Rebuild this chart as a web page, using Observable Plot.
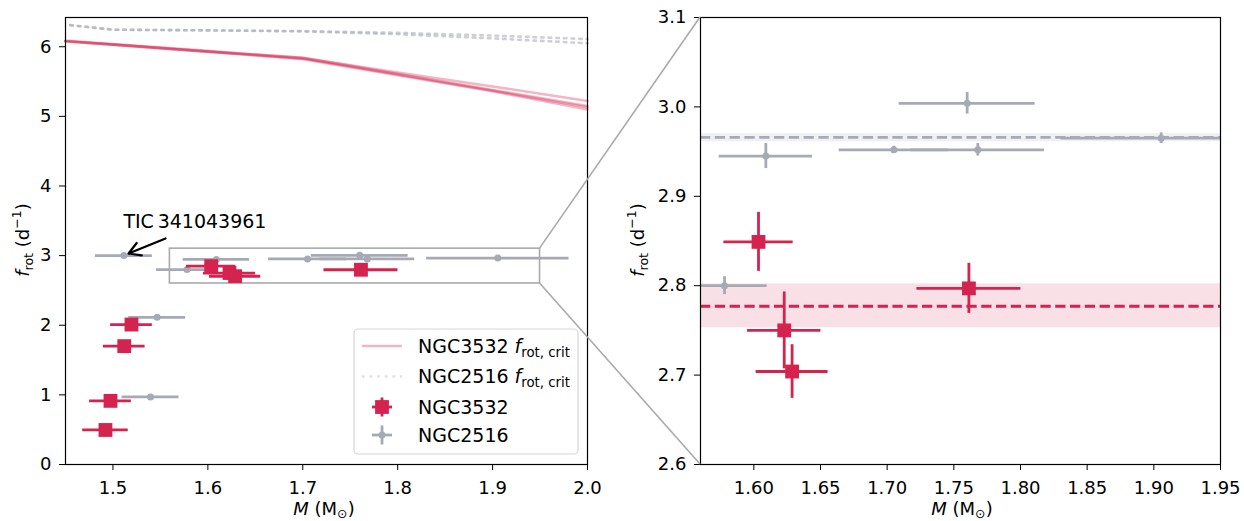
<!DOCTYPE html>
<html><head><meta charset="utf-8">
<script src="https://cdn.jsdelivr.net/npm/d3@7"></script>
<script src="https://cdn.jsdelivr.net/npm/@observablehq/plot@0.6"></script>
<style>
html,body{margin:0;padding:0;background:#fff;}
#wrap{position:relative;width:1244px;height:521px;overflow:hidden;font-family:"DejaVu Sans",sans-serif;}
#wrap > svg{position:absolute;top:0;}
</style></head><body><div id="wrap"></div>
<script>
// ---------- data ----------
const ngc3532Mass    = [1.4921, 1.4974, 1.5119, 1.5195, 1.6035, 1.6228, 1.6287, 1.7613];
const ngc3532MassErr = [0.024, 0.022, 0.022, 0.022, 0.026, 0.0275, 0.027, 0.039];
const ngc3532Frot    = [0.496, 0.914, 1.70, 2.01, 2.849, 2.750, 2.704, 2.797];
const ngc3532FrotErr = [0.01, 0.01, 0.01, 0.01, 0.033, 0.043, 0.030, 0.028];

const ngc2516Mass    = [1.5115, 1.5396, 1.5466, 1.578, 1.609, 1.705, 1.760, 1.768, 1.9055];
const ngc2516MassErr = [0.030, 0.030, 0.030, 0.032, 0.035, 0.041, 0.051, 0.050, 0.075];
const ngc2516Frot    = [3.00, 0.97, 2.114, 2.80, 2.945, 2.952, 3.004, 2.952, 2.965];
const ngc2516FrotErr = [0.01, 0.01, 0.01, 0.01, 0.014, 0.004, 0.012, 0.007, 0.006];

// critical rotation frequency tracks
const critMass = [1.45, 1.5, 1.6, 1.7, 1.8, 1.9, 2.0];
const ngc3532CritTracks = [
  [6.08, 6.03, 5.93, 5.83, 5.60, 5.37, 5.13],
  [6.08, 6.03, 5.93, 5.82, 5.59, 5.36, 5.10],
  [6.09, 6.04, 5.94, 5.84, 5.61, 5.38, 5.15],
  [6.08, 6.03, 5.93, 5.84, 5.63, 5.43, 5.22]
];
const crit2516Mass = [1.455, 1.5, 1.6, 1.7, 1.8, 1.9, 2.0];
const ngc2516CritTracks = [
  [6.31, 6.245, 6.235, 6.225, 6.20, 6.16, 6.11],
  [6.31, 6.245, 6.235, 6.22, 6.18, 6.12, 6.05]
];

// cluster means in the zoom panel
const ngc3532Mean = [2.777, 2.753, 2.802];   // mean, low, high
const ngc2516Mean = [2.966, 2.961, 2.970];

const zoomBox = {x1: 1.56, x2: 1.95, y1: 2.6, y2: 3.1};
const annotation = {label: "TIC\u2009341043961", tx: 1.511, ty: 3.49, ax1: 1.5554, ay1: 3.247, ax2: 1.5164, ay2: 3.03};

const leftXTicks = [1.5, 1.6, 1.7, 1.8, 1.9, 2.0];
const leftYTicks = [0, 1, 2, 3, 4, 5, 6];
const rightXTicks = [1.60, 1.65, 1.70, 1.75, 1.80, 1.85, 1.90, 1.95];
const rightYTicks = [2.6, 2.7, 2.8, 2.9, 3.0, 3.1];

// ---------- style ----------
const FONT = "DejaVu Sans";
const FS = 18;
const LFS = 19;
const RED = "#d4234f", GRAY = "#a6aab5";
const EW = 2.8;

const rows3532 = ngc3532Mass.map((m, i) => ({m, me: ngc3532MassErr[i], f: ngc3532Frot[i], fe: ngc3532FrotErr[i]}));
const rows2516 = ngc2516Mass.map((m, i) => ({m, me: ngc2516MassErr[i], f: ngc2516Frot[i], fe: ngc2516FrotErr[i]}));

function errMarks(rows, color, symbol, r) {
  return [
    Plot.ruleY(rows, {y: "f", x1: d => d.m - d.me, x2: d => d.m + d.me, stroke: color, strokeWidth: EW, clip: true}),
    Plot.ruleX(rows, {x: "m", y1: d => d.f - d.fe, y2: d => d.f + d.fe, stroke: color, strokeWidth: EW, clip: true}),
    Plot.dot(rows, {x: "m", y: "f", symbol, r, fill: color, clip: true})
  ];
}
const baseStyle = {fontFamily: FONT, fontSize: FS + "px", color: "black", background: "transparent", overflow: "visible"};
const DOTS = "2.6,5";
const DOT_OP = 0.55;

const wrap = document.getElementById("wrap");

// ---------- left panel ----------
const left = Plot.plot({
  width: 600, height: 521,
  marginLeft: 65, marginRight: 13, marginTop: 17, marginBottom: 57,
  x: {domain: [1.45, 2.0]},
  y: {domain: [0, 6.42]},
  style: baseStyle,
  marks: [
    ...ngc2516CritTracks.map(t => Plot.line(crit2516Mass.map((m, i) => ({m, f: t[i]})),
      {x: "m", y: "f", stroke: GRAY, strokeOpacity: DOT_OP, strokeWidth: 2.6, strokeDasharray: DOTS})),
    ...ngc3532CritTracks.map(t => Plot.line(critMass.map((m, i) => ({m, f: t[i]})),
      {x: "m", y: "f", stroke: RED, strokeOpacity: 0.33, strokeWidth: 2.6})),
    Plot.rect([zoomBox], {x1: "x1", x2: "x2", y1: "y1", y2: "y2", fill: "none", stroke: "#aaaaaa", strokeWidth: 1.6}),
    ...errMarks(rows2516, GRAY, "circle", 3.5),
    ...errMarks(rows3532, RED, "square", 7.8),
    Plot.arrow([annotation], {x1: "ax1", y1: "ay1", x2: "ax2", y2: "ay2", stroke: "black", strokeWidth: 2.2, headLength: 11}),
    Plot.text([annotation], {x: "tx", y: "ty", text: "label", textAnchor: "start", fontSize: 19, fill: "black"}),
    Plot.axisX({ticks: leftXTicks, tickFormat: d3.format(".1f"), tickSize: 6, tickPadding: 11, label: null}),
    Plot.axisY({ticks: leftYTicks, tickFormat: d3.format("d"), tickSize: 6, tickPadding: 8, label: null}),
    Plot.frame({stroke: "black", strokeWidth: 1.2})
  ]
});
left.style.left = "0px";
wrap.appendChild(left);

// ---------- right panel ----------
const right = Plot.plot({
  width: 644, height: 521,
  marginLeft: 100, marginRight: 24, marginTop: 17, marginBottom: 57,
  x: {domain: [1.56, 1.95]},
  y: {domain: [2.6, 3.1]},
  style: baseStyle,
  marks: [
    Plot.rect([ngc3532Mean], {x1: 1.56, x2: 1.95, y1: d => d[1], y2: d => d[2], fill: RED, fillOpacity: 0.14}),
    Plot.rect([ngc2516Mean], {x1: 1.56, x2: 1.95, y1: d => d[1], y2: d => d[2], fill: GRAY, fillOpacity: 0.18}),
    Plot.ruleY([ngc2516Mean], {y: d => d[0], stroke: GRAY, strokeWidth: 2.8, strokeDasharray: "10.3,4.5"}),
    Plot.ruleY([ngc3532Mean], {y: d => d[0], stroke: RED, strokeWidth: 2.8, strokeDasharray: "10.3,4.5"}),
    ...errMarks(rows2516, GRAY, "circle", 3.5),
    ...errMarks(rows3532, RED, "square", 7.8),
    Plot.axisX({ticks: rightXTicks, tickFormat: d3.format(".2f"), tickSize: 6, tickPadding: 11, label: null}),
    Plot.axisY({ticks: rightYTicks, tickFormat: d3.format(".1f"), tickSize: 6, tickPadding: 8, label: null}),
    Plot.frame({stroke: "black", strokeWidth: 1.2})
  ]
});
right.style.left = "600px";
wrap.appendChild(right);

// ---------- axis labels ----------
function yLabel(svg, x, y) {
  const t = d3.select(svg).append("text")
    .attr("transform", `translate(${x},${y}) rotate(-90)`)
    .attr("text-anchor", "middle").attr("font-size", FS).attr("font-family", FONT).attr("fill", "black");
  t.append("tspan").attr("font-style", "italic").text("f");
  t.append("tspan").attr("font-size", FS * 0.7).attr("dy", 4).text("rot");
  t.append("tspan").attr("dy", -4).text(" (d");
  t.append("tspan").attr("font-size", FS * 0.7).attr("dy", -8).text("\u22121");
  t.append("tspan").attr("dy", 8).text(")");
}
function xLabel(svg, x, y) {
  const t = d3.select(svg).append("text")
    .attr("x", x).attr("y", y)
    .attr("text-anchor", "middle").attr("font-size", FS).attr("font-family", FONT).attr("fill", "black");
  t.append("tspan").attr("font-style", "italic").text("M");
  t.append("tspan").text(" (M");
  t.append("tspan").attr("font-size", FS * 0.7).attr("dy", 3).text("\u2299");
  t.append("tspan").attr("dy", -3).text(")");
}
yLabel(left, 29, 240);
xLabel(left, 324, 515);
yLabel(right, 44, 240);
xLabel(right, 362, 515);

// ---------- legend ----------
(function legend() {
  const g = d3.select(left).append("g").attr("font-family", FONT).attr("font-size", LFS).attr("text-anchor", "start");
  g.append("rect").attr("x", 354).attr("y", 329).attr("width", 224).attr("height", 125).attr("rx", 4)
    .attr("fill", "white").attr("fill-opacity", 0.85).attr("stroke", "#d6d6d6").attr("stroke-width", 1.2);
  const hx1 = 362, hx2 = 402, hc = 382, tx = 418;
  const rows = [346, 376.5, 407, 435];
  g.append("line").attr("x1", hx1).attr("x2", hx2).attr("y1", rows[0]).attr("y2", rows[0])
    .attr("stroke", RED).attr("stroke-opacity", 0.33).attr("stroke-width", 2.6);
  g.append("line").attr("x1", hx1).attr("x2", hx2).attr("y1", rows[1]).attr("y2", rows[1])
    .attr("stroke", GRAY).attr("stroke-opacity", 0.35).attr("stroke-width", 2.6).attr("stroke-dasharray", DOTS);
  // errorbar handles
  [[rows[2], RED, "sq"], [rows[3], GRAY, "c"]].forEach(([y, c, k]) => {
    g.append("line").attr("x1", hc - 10).attr("x2", hc + 10).attr("y1", y).attr("y2", y).attr("stroke", c).attr("stroke-width", EW);
    g.append("line").attr("x1", hc).attr("x2", hc).attr("y1", y - 9.5).attr("y2", y + 9.5).attr("stroke", c).attr("stroke-width", EW);
    if (k === "sq") g.append("rect").attr("x", hc - 6.9).attr("y", y - 6.9).attr("width", 13.8).attr("height", 13.8).attr("fill", c);
    else g.append("circle").attr("cx", hc).attr("cy", y).attr("r", 3.5).attr("fill", c);
  });
  const labels = [["NGC3532", true], ["NGC2516", true], ["NGC3532", false], ["NGC2516", false]];
  labels.forEach(([name, crit], i) => {
    const t = g.append("text").attr("x", tx).attr("y", rows[i]).attr("dy", "0.36em").attr("fill", "black").attr("text-anchor", "start");
    t.append("tspan").text(name + " ");
    if (crit) {
      t.append("tspan").attr("font-style", "italic").text("f");
      t.append("tspan").attr("font-size", LFS * 0.7).attr("dy", 4).text("rot, crit");
    }
  });
})();

// ---------- zoom connectors ----------
(function connectors() {
  const lx = left.scale("x"), ly = left.scale("y");
  const rx = right.scale("x"), ry = right.scale("y");
  const off = 600;
  const svg = d3.select(wrap).append("svg").attr("width", 1244).attr("height", 521)
    .style("left", "0px").style("pointer-events", "none");
  const pairs = [
    [[lx.apply(zoomBox.x2), ly.apply(zoomBox.y2)], [off + rx.apply(rx.domain[0]), ry.apply(ry.domain[1])]],
    [[lx.apply(zoomBox.x2), ly.apply(zoomBox.y1)], [off + rx.apply(rx.domain[0]), ry.apply(ry.domain[0])]]
  ];
  pairs.forEach(([a, b]) => svg.append("line").attr("x1", a[0]).attr("y1", a[1]).attr("x2", b[0]).attr("y2", b[1])
    .attr("stroke", "#aaaaaa").attr("stroke-width", 1.6));
})();
</script></body></html>
